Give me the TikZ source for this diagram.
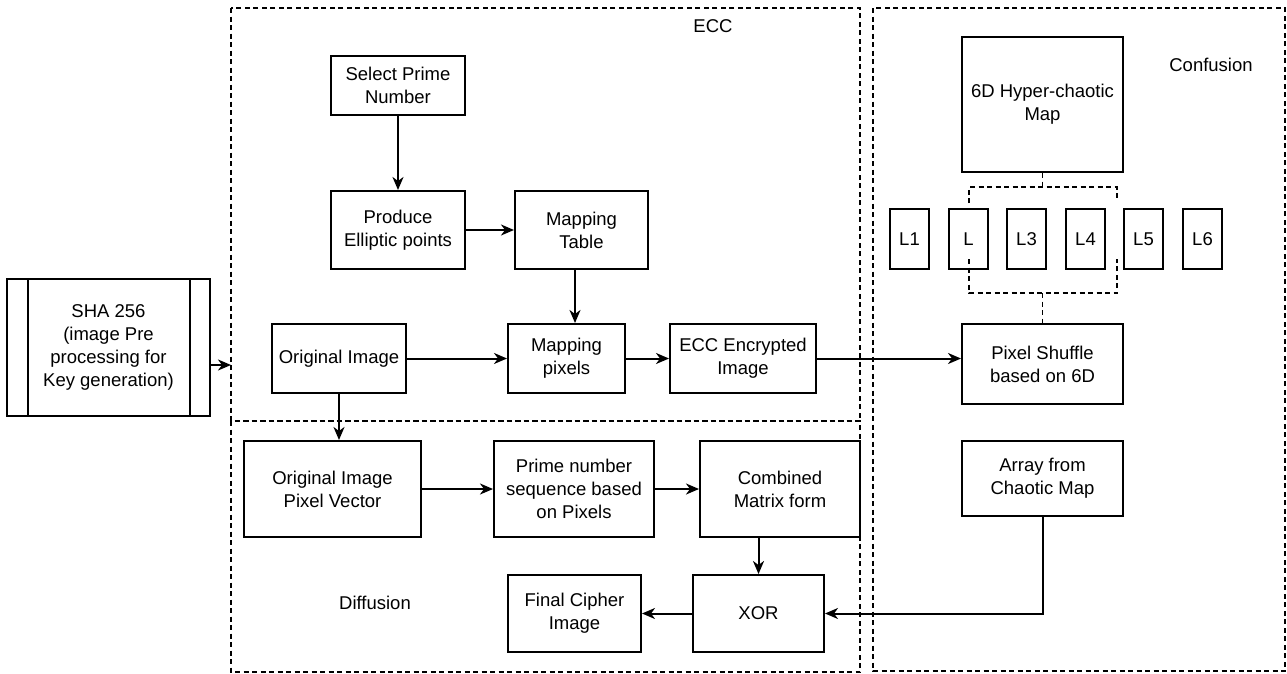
\documentclass[tikz,border=0pt]{standalone}
\usepackage{fontspec}
\setmainfont{Liberation Sans}
\usetikzlibrary{arrows.meta}
\tikzset{
  box/.style={draw, line width=2pt, fill=white, align=center, inner sep=0pt,
    font=\fontsize{18.5}{23}\selectfont},
  arr/.style={line width=2pt, -{Stealth[length=13pt,width=11pt,inset=4pt]}},
  plain/.style={line width=2pt},
  grp/.style={draw, line width=2pt, dash pattern=on 5pt off 3.5pt},
  brk/.style={line width=1.8pt, dash pattern=on 5pt off 3.5pt},
  lbl/.style={font=\fontsize{18.5}{23}\selectfont, inner sep=0pt}
}
\begin{document}
\begin{tikzpicture}[x=1pt,y=-1pt]
\useasboundingbox (0,0) rectangle (1287,673);
% group frames
\draw[grp] (231,8) rectangle (860,421);
\draw[grp] (231,421) rectangle (860,672);
\draw[grp] (873,8) rectangle (1285,671);
\node[lbl] (ecclbl) at (713,26) {ECC};
\node[lbl] (conflbl) at (1211,65) {Confusion};
\node[lbl] (difflbl) at (375,603) {Diffusion};
% SHA box
\node[box, minimum width=203pt, minimum height=137pt] (sha) at (108.5,347.5)
  {SHA 256\\(image Pre\\processing for\\Key generation)};
\draw[plain] ([xshift=22pt]sha.north west) -- ([xshift=22pt]sha.south west);
\draw[plain] ([xshift=-21pt]sha.north east) -- ([xshift=-21pt]sha.south east);
\coordinate (eccin) at (231,365);
\draw[arr] (sha.east |- eccin) -- (eccin);
% ECC part
\node[box, minimum width=134pt, minimum height=59pt] (sel) at (398,85.5) {Select Prime\\Number};
\node[box, minimum width=134pt, minimum height=78pt] (prod) at (398,230) {Produce\\Elliptic points};
\node[box, minimum width=133pt, minimum height=78pt] (mtab) at (581.5,230) {Mapping\\Table};
\node[box, minimum width=134pt, minimum height=69pt] (orig) at (339,358.5) {Original Image};
\node[box, minimum width=117pt, minimum height=69pt] (mpix) at (566.5,358.5) {Mapping\\pixels};
\node[box, minimum width=146pt, minimum height=69pt] (ecce) at (743,358.5) {ECC Encrypted\\Image};
\draw[arr] (sel.south) -- (prod.north);
\draw[arr] (prod.east) -- (mtab.west);
\draw[arr] ([xshift=-6.5pt]mtab.south) -- ([xshift=-6.5pt]mtab.south |- mpix.north);
\draw[arr] (orig.east) -- (mpix.west);
\draw[arr] (mpix.east) -- (ecce.west);
% Confusion part
\node[box, minimum width=161pt, minimum height=135pt] (six) at (1042.5,104.5) {6D Hyper-chaotic\\Map};
\foreach \n/\x/\t in {l1/909.5/L1, l2/968.5/L, l3/1026.5/L3, l4/1085.5/L4, l5/1143.5/L5, l6/1202.5/L6}
  \node[box, minimum width=39pt, minimum height=60pt] (\n) at (\x,239) {\t};
\node[box, minimum width=161pt, minimum height=80pt] (shuf) at (1042.5,364) {Pixel Shuffle\\based on 6D};
\node[box, minimum width=161pt, minimum height=75pt] (arrc) at (1042.5,478.5) {Array from\\Chaotic Map};
\draw[brk] (six.south) -- ++(0,16);
\draw[brk] (969,203) |- (1117,187) -- (1117,199);
\draw[brk] (969,259) |- (1117,293) -- (1117,259);
\draw[brk] (1042.5,293) -- (shuf.north);
\draw[arr] (ecce.east) -- (ecce.east -| shuf.west);
% Diffusion part
\node[box, minimum width=177pt, minimum height=96pt] (pv) at (332.5,489) {Original Image\\Pixel Vector};
\node[box, minimum width=160pt, minimum height=96pt] (pns) at (574,489) {Prime number\\sequence based\\on Pixels};
\node[box, minimum width=160pt, minimum height=96pt] (cmf) at (780,489) {Combined\\Matrix form};
\node[box, minimum width=131pt, minimum height=77pt] (xor) at (758.5,613.5) {XOR};
\node[box, minimum width=133pt, minimum height=77pt] (fci) at (574.5,613.5) {Final Cipher\\Image};
\draw[arr] (orig.south) -- (orig.south |- pv.north);
\draw[arr] (pv.east) -- (pns.west);
\draw[arr] (pns.east) -- (cmf.west);
\draw[arr] (xor.north |- cmf.south) -- (xor.north);
\draw[arr] (xor.west) -- (fci.east);
\draw[arr] (arrc.south) -- (arrc.south |- xor.east) -- (xor.east);
\end{tikzpicture}
\end{document}
